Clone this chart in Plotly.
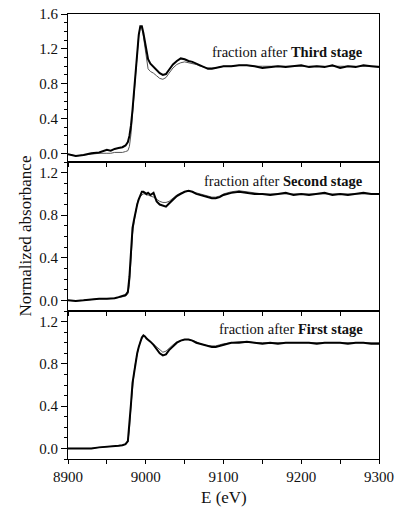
import plotly.graph_objects as go
from plotly.subplots import make_subplots

energy = [8900, 8910, 8920, 8930, 8940, 8950, 8955, 8960, 8965, 8970, 8974, 8977, 8979, 8981,
          8983, 8985, 8987, 8989, 8991, 8993, 8995, 8997, 8999, 9001, 9003, 9006, 9010, 9014,
          9018, 9022, 9026, 9030, 9035, 9040, 9045, 9050, 9055, 9060, 9065, 9070, 9075, 9080,
          9085, 9090, 9095, 9100, 9110, 9120, 9130, 9140, 9150, 9160, 9170, 9180, 9190, 9200,
          9210, 9220, 9230, 9240, 9250, 9260, 9270, 9280, 9290, 9300]

third_exp = [-0.01, -0.03, -0.02, 0.0, 0.01, 0.04, 0.03, 0.05, 0.06, 0.07, 0.09, 0.13, 0.20, 0.32,
             0.50, 0.72, 0.95, 1.18, 1.36, 1.46, 1.46, 1.38, 1.28, 1.18, 1.08, 1.03, 0.99, 0.96,
             0.92, 0.90, 0.91, 0.96, 1.02, 1.06, 1.09, 1.08, 1.06, 1.05, 1.03, 1.01, 0.99, 0.97,
             0.97, 0.98, 0.99, 1.00, 1.00, 1.01, 1.01, 1.00, 0.98, 0.99, 1.00, 0.99, 1.00, 1.01,
             0.99, 1.00, 0.99, 1.01, 0.98, 1.00, 0.99, 1.01, 1.00, 0.99]
third_fit = [-0.01, -0.03, -0.02, -0.01, 0.0, 0.0, 0.0, 0.01, 0.01, 0.01, 0.02, 0.03, 0.08, 0.22,
             0.45, 0.70, 0.95, 1.18, 1.36, 1.45, 1.44, 1.34, 1.20, 1.06, 0.97, 0.94, 0.92, 0.89,
             0.86, 0.85, 0.87, 0.92, 0.98, 1.02, 1.04, 1.05, 1.04, 1.03, 1.02, 1.00, 0.99, 0.98,
             0.98, 0.98, 0.99, 1.00, 1.00, 1.01, 1.01, 1.00, 1.00, 1.00, 1.00, 1.00, 1.00, 1.00,
             1.00, 1.00, 1.00, 1.00, 1.00, 1.00, 1.00, 1.00, 1.00, 1.00]

second_exp = [0.0, -0.005, 0.0, 0.01, 0.015, 0.015, 0.015, 0.02, 0.03, 0.04, 0.05, 0.08, 0.22, 0.45,
              0.68, 0.76, 0.84, 0.90, 0.95, 0.99, 1.02, 1.02, 1.01, 1.00, 1.01, 0.99, 1.01, 0.93,
              0.90, 0.89, 0.88, 0.91, 0.95, 0.98, 1.00, 1.02, 1.03, 1.02, 1.00, 0.99, 0.98, 0.97,
              0.96, 0.96, 0.97, 0.99, 1.01, 1.02, 1.01, 1.00, 1.00, 0.99, 1.00, 1.01, 0.99, 1.00,
              0.99, 1.00, 1.01, 0.99, 1.00, 0.99, 1.00, 1.01, 1.00, 1.00]
second_fit = [0.0, -0.005, 0.0, 0.01, 0.015, 0.015, 0.015, 0.02, 0.025, 0.03, 0.04, 0.06, 0.15, 0.38,
              0.62, 0.74, 0.84, 0.91, 0.96, 0.98, 0.99, 1.00, 1.00, 0.99, 0.99, 0.98, 0.97, 0.95,
              0.93, 0.92, 0.92, 0.93, 0.96, 0.99, 1.01, 1.02, 1.03, 1.02, 1.01, 1.00, 0.99, 0.98,
              0.97, 0.97, 0.98, 1.00, 1.02, 1.03, 1.02, 1.01, 1.00, 1.00, 1.00, 1.00, 1.00, 1.00,
              1.00, 1.00, 1.00, 1.00, 1.00, 1.00, 1.00, 1.00, 1.00, 1.00]

first_exp = [0.0, 0.0, -0.005, 0.0, 0.01, 0.015, 0.015, 0.02, 0.025, 0.03, 0.04, 0.07, 0.22, 0.42,
             0.62, 0.72, 0.82, 0.90, 0.96, 1.01, 1.05, 1.07, 1.06, 1.04, 1.03, 1.01, 0.98, 0.94,
             0.90, 0.88, 0.89, 0.93, 0.97, 1.00, 1.02, 1.03, 1.03, 1.02, 1.00, 0.99, 0.98, 0.97,
             0.96, 0.96, 0.97, 0.98, 1.00, 1.00, 1.01, 1.00, 0.99, 1.00, 0.99, 1.00, 1.00, 1.00,
             1.00, 0.99, 1.00, 1.00, 1.00, 0.99, 1.00, 1.00, 0.99, 0.99]
first_fit = [0.0, 0.0, -0.005, 0.0, 0.01, 0.015, 0.015, 0.02, 0.025, 0.03, 0.04, 0.06, 0.18, 0.40,
             0.61, 0.72, 0.82, 0.90, 0.96, 1.01, 1.04, 1.06, 1.06, 1.05, 1.03, 1.01, 0.99, 0.96,
             0.93, 0.91, 0.92, 0.95, 0.98, 1.01, 1.02, 1.03, 1.03, 1.02, 1.01, 0.99, 0.98, 0.97,
             0.97, 0.97, 0.98, 0.99, 1.00, 1.01, 1.01, 1.00, 1.00, 1.00, 1.00, 1.00, 1.00, 1.00,
             1.00, 1.00, 1.00, 1.00, 1.00, 1.00, 1.00, 1.00, 1.00, 1.00]

panels = [
    ("Third stage", third_exp, third_fit, [-0.1, 1.6], 1.162),
    ("Second stage", second_exp, second_fit, [-0.1, 1.3], 1.12),
    ("First stage", first_exp, first_fit, [-0.1, 1.3], 1.127),
]

x_ticks = [8900, 9000, 9100, 9200, 9300]
y_ticks = [0.0, 0.4, 0.8, 1.2, 1.6]

FONT = "Liberation Serif, Times New Roman, serif"

fig = make_subplots(rows=3, cols=1, shared_xaxes=True, vertical_spacing=0)

H = 445.0
doms = [[297 / H, 1.0], [148 / H, 297 / H], [0.0, 148 / H]]

for i, (name, exp, fit, yr, ylab) in enumerate(panels):
    r = i + 1
    fig.add_trace(go.Scatter(x=energy, y=fit, mode="lines",
                             line=dict(color="#555555", width=1), showlegend=False), row=r, col=1)
    fig.add_trace(go.Scatter(x=energy, y=exp, mode="lines",
                             line=dict(color="#000000", width=2), showlegend=False), row=r, col=1)
    fig.update_yaxes(row=r, col=1, range=yr, domain=doms[i], tickvals=y_ticks,
                     ticktext=[f"{v:.1f}" for v in y_ticks], automargin=False,
                     ticks="outside", ticklen=6, tickwidth=1, tickcolor="#000",
                     minor=dict(dtick=0.1, tick0=0, ticks="outside", ticklen=3, tickcolor="#000"),
                     showline=True, linecolor="#000", linewidth=1, mirror=True,
                     showgrid=False, zeroline=False,
                     tickfont=dict(family=FONT, size=15, color="#111"))
    fig.update_xaxes(row=r, col=1, range=[8900, 9300], tickvals=x_ticks, automargin=False,
                     ticks="outside", ticklen=4, tickwidth=1, tickcolor="#000",
                     minor=dict(dtick=50, tick0=8900, ticks="outside", ticklen=4, tickcolor="#000"),
                     showline=True, linecolor="#000", linewidth=1, mirror=True,
                     showgrid=False, zeroline=False,
                     showticklabels=(r == 3),
                     tickfont=dict(family=FONT, size=15, color="#111"))
    yref = "y" if r == 1 else f"y{r}"
    xref = "x" if r == 1 else f"x{r}"
    fig.add_annotation(x=9282, y=ylab, xref=xref, yref=yref,
                       text=f"fraction after <b>{name}</b>", showarrow=False,
                       xanchor="right", yanchor="middle",
                       font=dict(family=FONT, size=14.5, color="#111"))

fig.add_annotation(x=(25 - 68) / 311.0, y=0.5, xref="paper", yref="paper",
                   text="Normalized absorbance", textangle=-90, showarrow=False,
                   xanchor="center", yanchor="middle",
                   font=dict(family=FONT, size=17, color="#111"))
fig.add_annotation(x=0.5, y=-(497 - 459) / H, xref="paper", yref="paper",
                   text="E (eV)", showarrow=False, xanchor="center", yanchor="middle",
                   font=dict(family=FONT, size=17, color="#111"))

fig.update_layout(template="none", width=398, height=511,
                  margin=dict(l=68, r=19, t=14, b=52, pad=0, autoexpand=False),
                  paper_bgcolor="white", plot_bgcolor="white")

fig.write_html("out.html", config={"displayModeBar": False},
               post_script="document.body.style.margin='0';document.body.style.padding='0';"
                           "document.documentElement.style.overflow='hidden';")
